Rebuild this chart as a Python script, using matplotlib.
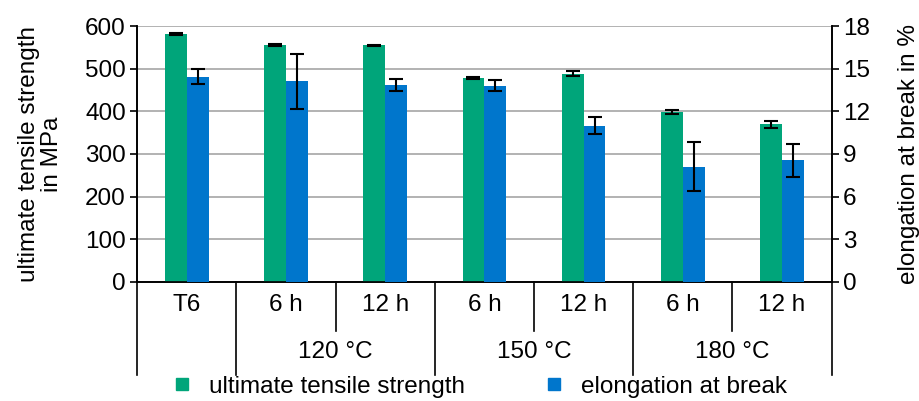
import matplotlib
matplotlib.use("Agg")
import matplotlib.pyplot as plt
import matplotlib.transforms as mtransforms
from matplotlib.lines import Line2D
import numpy as np

plt.rcParams["font.family"] = ["Liberation Sans", "DejaVu Sans"]

# Heat treatment states
sub_labels = ["T6", "6 h", "12 h", "6 h", "12 h", "6 h", "12 h"]
group_labels = ["120 °C", "150 °C", "180 °C"]

# Ultimate tensile strength in MPa (mean, std)
uts = [581, 555, 555, 478, 488, 398, 370]
uts_err = [2, 2, 1.5, 2, 6, 4, 8]

# Elongation at break in % (mean, std)
elong = [14.45, 14.1, 13.85, 13.8, 11.0, 8.1, 8.55]
elong_err = [0.55, 1.95, 0.4, 0.4, 0.57, 1.73, 1.15]

GREEN = "#00a57a"
BLUE = "#0076cc"
FS = 17.5

fig = plt.figure(figsize=(9.2, 4.01), dpi=100)
ax = fig.add_axes([0.149, 0.297, 0.755, 0.638])
ax2 = ax.twinx()

x = np.arange(len(sub_labels))
w = 0.22
err_kw = dict(ecolor="black", elinewidth=1.5, capsize=5, capthick=1.5)

ax.bar(x - w / 2, uts, w, color=GREEN, yerr=uts_err, error_kw=err_kw, zorder=3)
ax2.bar(x + w / 2, elong, w, color=BLUE, yerr=elong_err, error_kw=err_kw, zorder=3)

ax.set_xlim(-0.5, len(sub_labels) - 0.5)
ax.set_ylim(0, 600)
ax2.set_ylim(0, 18)
ax.set_yticks(range(0, 601, 100))
ax2.set_yticks(range(0, 19, 3))
ax.grid(axis="y", color="#a6a6a6", linewidth=1.2, zorder=0)
ax.set_axisbelow(True)

for a in (ax, ax2):
    a.tick_params(axis="y", labelsize=FS, length=5, width=1.2, direction="out", pad=3)
    for s in a.spines.values():
        s.set_linewidth(1.2)
ax.tick_params(axis="x", length=0, labelbottom=False)
ax.spines["top"].set_visible(False)
ax2.spines["top"].set_visible(False)

ax.set_ylabel("ultimate tensile strength\nin MPa", fontsize=FS, linespacing=1.05, labelpad=16)
ax2.set_ylabel("elongation at break in %", fontsize=FS, labelpad=20)

# Category table below the axis
trans = mtransforms.blended_transform_factory(ax.transData, ax.transAxes)
long_sep = [-0.5, 0.5, 2.5, 4.5, 6.5]
short_sep = [1.5, 3.5, 5.5]
for xs in long_sep:
    ax.plot([xs, xs], [0, -0.365], transform=trans, color="black", lw=1.2, clip_on=False)
for xs in short_sep:
    ax.plot([xs, xs], [0, -0.19], transform=trans, color="black", lw=1.2, clip_on=False)

for xi, lab in zip(x, sub_labels):
    ax.text(xi, -0.09, lab, transform=trans, ha="center", va="center", fontsize=FS)
for i, lab in enumerate(group_labels):
    ax.text(1.5 + 2 * i, -0.275, lab, transform=trans, ha="center", va="center", fontsize=FS)

handles = [
    Line2D([], [], marker="s", color=GREEN, linestyle="none", markersize=9),
    Line2D([], [], marker="s", color=BLUE, linestyle="none", markersize=9),
]
fig.legend(handles, ["ultimate tensile strength", "elongation at break"],
           loc="center", bbox_to_anchor=(0.52, 0.035), ncol=2, frameon=False,
           fontsize=FS, handletextpad=0.6, columnspacing=3.2, handlelength=1.0)

fig.savefig("out.png", dpi=100)
